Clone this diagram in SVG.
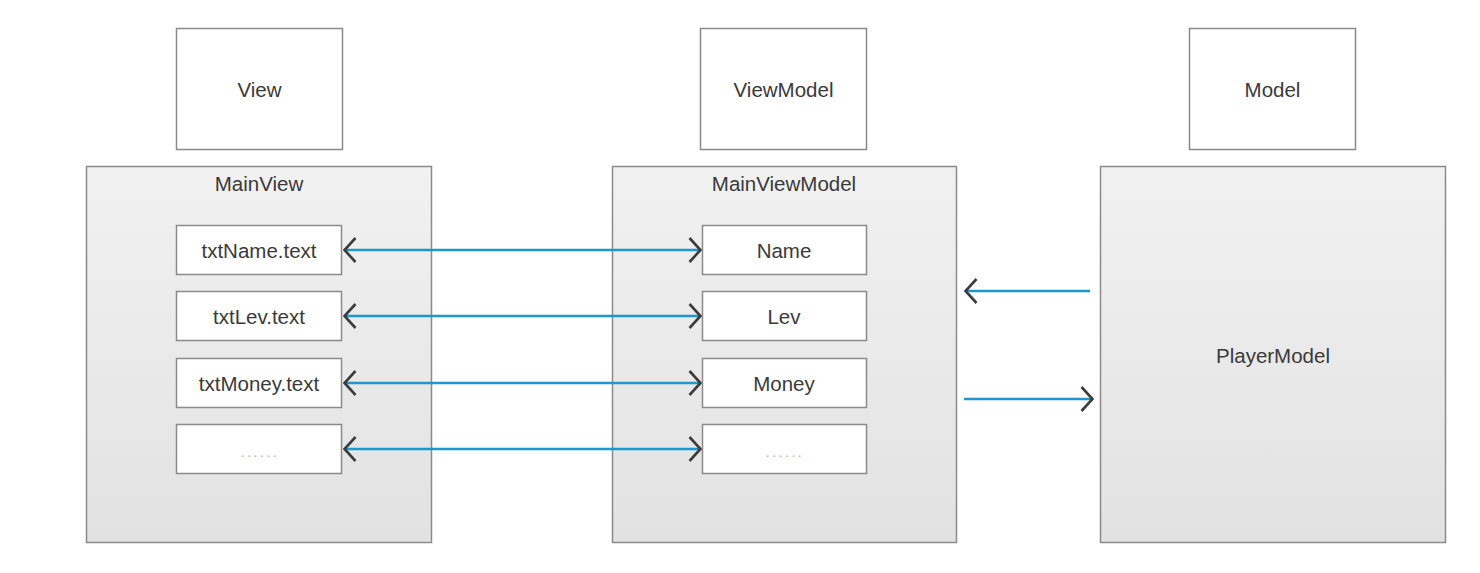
<svg xmlns="http://www.w3.org/2000/svg" width="1480" height="573" viewBox="0 0 1480 573">
<style>
text{font-family:"Liberation Sans",Arial,sans-serif;font-size:20.5px;fill:#3a3a3a;text-anchor:middle;dominant-baseline:central}
.box{fill:#fff;stroke:#8a8a8a;stroke-width:1.5}
.cont{fill:url(#g);stroke:#8a8a8a;stroke-width:1.5}
.ln{stroke:#1b98cf;stroke-width:2.5;fill:none}
.dots{fill:#b0b0b0;font-size:14px;letter-spacing:2.5px}
</style>
<defs>
<linearGradient id="g" x1="0" y1="0" x2="0" y2="1">
<stop offset="0" stop-color="#f1f1f1"/>
<stop offset="1" stop-color="#e2e2e2"/>
</linearGradient>
<marker id="ah" viewBox="0 0 14 28" refX="13" refY="14" markerWidth="14" markerHeight="28" markerUnits="userSpaceOnUse" orient="auto-start-reverse">
<path d="M1.5,2 L12.5,14 L1.5,26" fill="none" stroke="#3c3c3c" stroke-width="2.6"/>
</marker>
</defs>
<rect width="1480" height="573" fill="#fff"/>
<g id="view"><rect class="box" x="176.5" y="28.5" width="166" height="121"/><text x="259.5" y="89">View</text></g>
<g id="viewmodel"><rect class="box" x="700.5" y="28.5" width="166" height="121"/><text x="783.5" y="89">ViewModel</text></g>
<g id="model"><rect class="box" x="1189.5" y="28.5" width="166" height="121"/><text x="1272.5" y="89">Model</text></g>
<g id="mainview"><rect class="cont" x="86.5" y="166.5" width="345" height="376"/><text x="259" y="183">MainView</text></g>
<g id="mainviewmodel"><rect class="cont" x="612.5" y="166.5" width="344" height="376"/><text x="784" y="183">MainViewModel</text></g>
<g id="playermodel"><rect class="cont" x="1100.5" y="166.5" width="345" height="376"/><text x="1273" y="355">PlayerModel</text></g>
<g id="txtName"><rect class="box" x="176.5" y="225.5" width="165" height="49"/><text x="259" y="250">txtName.text</text></g>
<g id="txtLev"><rect class="box" x="176.5" y="291.5" width="165" height="49"/><text x="259" y="316">txtLev.text</text></g>
<g id="txtMoney"><rect class="box" x="176.5" y="358.5" width="165" height="49"/><text x="259" y="383">txtMoney.text</text></g>
<g id="txtMore"><rect class="box" x="176.5" y="424.5" width="165" height="49"/><text class="dots" x="260" y="452">......</text></g>
<g id="name"><rect class="box" x="702.5" y="225.5" width="164" height="49"/><text x="784" y="250">Name</text></g>
<g id="lev"><rect class="box" x="702.5" y="291.5" width="164" height="49"/><text x="784" y="316">Lev</text></g>
<g id="money"><rect class="box" x="702.5" y="358.5" width="164" height="49"/><text x="784" y="383">Money</text></g>
<g id="more"><rect class="box" x="702.5" y="424.5" width="164" height="49"/><text class="dots" x="785" y="452">......</text></g>
<g id="connectors">
<line class="ln" x1="344" y1="250" x2="701" y2="250" marker-start="url(#ah)" marker-end="url(#ah)"/>
<line class="ln" x1="344" y1="316" x2="701" y2="316" marker-start="url(#ah)" marker-end="url(#ah)"/>
<line class="ln" x1="344" y1="383" x2="701" y2="383" marker-start="url(#ah)" marker-end="url(#ah)"/>
<line class="ln" x1="344" y1="449" x2="701" y2="449" marker-start="url(#ah)" marker-end="url(#ah)"/>
<line class="ln" x1="1090" y1="291" x2="965" y2="291" marker-end="url(#ah)"/>
<line class="ln" x1="964" y1="399" x2="1093" y2="399" marker-end="url(#ah)"/>
</g>
</svg>
